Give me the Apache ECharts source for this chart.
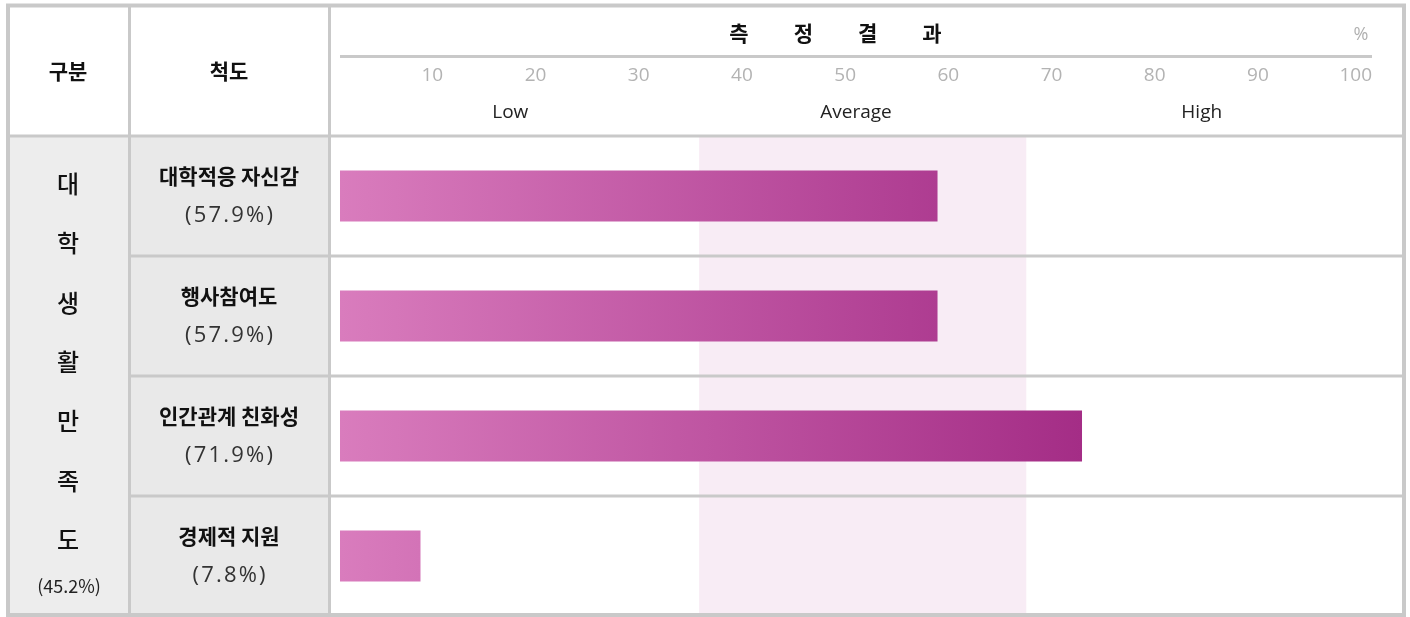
<!DOCTYPE html>
<html><head><meta charset="utf-8">
<script src="https://cdn.jsdelivr.net/npm/echarts@6/dist/echarts.min.js"></script>
<style>html,body{margin:0;padding:0;background:#fff}#c{width:1410px;height:617px}</style>
</head><body><div id="c"></div>
<script>
// ---- data ----
const categories = ['대학적응 자신감', '행사참여도', '인간관계 친화성', '경제적 지원'];
const values = [57.9, 57.9, 71.9, 7.8];
const groupLabel = '대학생활만족도';
const groupValue = 45.2;
const headerLabels = ['구분', '척도'];
const titleText = ['측', '정', '결', '과'];
const unitLabel = '%';
const axisMin = 0, axisMax = 100, axisStep = 10;
const bandNames = ['Low', 'Average', 'High'];
const bandCenters = [16.5, 50, 83.5];
const averageBand = [34.8, 66.5];

// ---- styles ----
const KR = '"Noto Sans CJK KR", "Noto Sans", sans-serif';
const LAT = '"Open Sans", "Noto Sans", sans-serif';
const LINE = '#c9c9c9';
const c0 = [217, 124, 189], c1 = [164, 45, 134];
const maxV = Math.max(...values);
function mix(t) { return 'rgb(' + c0.map((a, i) => Math.round(a + (c1[i] - a) * t)).join(',') + ')'; }
function spaced(s) { return s.split('').join('\u200A'); }

const chart = echarts.init(document.getElementById('c'), null, { renderer: 'canvas' });

const graphics = [];
graphics.push({ type: 'rect', z: -10, shape: { x: 10, y: 137, width: 119, height: 477 }, style: { fill: '#ededed' } });
graphics.push({ type: 'rect', z: -10, shape: { x: 130, y: 137, width: 199, height: 477 }, style: { fill: '#e9e9e9' } });
const lineStyle = { stroke: LINE, lineWidth: 3 };
function hl(x1, x2, y) { graphics.push({ type: 'line', z: 100, shape: { x1, y1: y, x2, y2: y }, style: lineStyle }); }
function vl(x, y1, y2) { graphics.push({ type: 'line', z: 100, shape: { x1: x, y1, x2: x, y2 }, style: lineStyle }); }
graphics.push({ type: 'rect', z: 100, shape: { x: 8, y: 5.5, width: 1396, height: 609.5 }, style: { fill: 'none', stroke: LINE, lineWidth: 4 } });
vl(129.5, 5, 615);
vl(329.5, 5, 615);
hl(8, 1404, 136);
[256, 376, 496].forEach(y => hl(130, 1404, y));
hl(340, 1372, 56.5);
graphics.push({ type: 'text', z: 110, x: 68, y: 71, style: { text: headerLabels[0], font: 'bold 21px ' + KR, fill: '#111', align: 'center', verticalAlign: 'middle' } });
graphics.push({ type: 'text', z: 110, x: 229, y: 71, style: { text: headerLabels[1], font: 'bold 21px ' + KR, fill: '#111', align: 'center', verticalAlign: 'middle' } });
titleText.forEach((t, i) => {
  graphics.push({ type: 'text', z: 110, x: 739 + i * 64.3, y: 33, style: { text: t, font: 'bold 21px ' + KR, fill: '#111', align: 'center', verticalAlign: 'middle' } });
});
graphics.push({ type: 'text', z: 110, x: 1361, y: 35, style: { text: unitLabel, font: '18px ' + LAT, fill: '#b0b0b0', align: 'center', verticalAlign: 'middle' } });
groupLabel.split('').forEach((ch, i) => {
  graphics.push({ type: 'text', z: 110, x: 68, y: 184 + i * 59.3, style: { text: ch, font: '500 24px ' + KR, fill: '#111', align: 'center', verticalAlign: 'middle' } });
});
graphics.push({ type: 'text', z: 110, x: 69, y: 586, style: { text: '(' + groupValue + '%)', font: '18px ' + KR, fill: '#222', align: 'center', verticalAlign: 'middle' } });

chart.setOption({
  animation: false,
  backgroundColor: '#fff',
  grid: { left: 340, right: 38, top: 136, bottom: 1, containLabel: false },
  xAxis: [{
    type: 'value', position: 'top', min: axisMin, max: axisMax, interval: axisStep,
    axisLine: { show: false }, axisTick: { show: false }, splitLine: { show: false },
    axisLabel: { margin: 51, align: 'right', showMinLabel: false, color: '#b3b3b3', fontSize: 19, fontFamily: LAT }
  }, {
    type: 'value', position: 'top', min: axisMin, max: axisMax,
    axisLine: { show: false }, axisTick: { show: false }, splitLine: { show: false },
    axisLabel: {
      margin: 14, color: '#222', fontSize: 19, fontFamily: LAT,
      customValues: bandCenters,
      formatter: v => { const i = bandCenters.indexOf(v); return i >= 0 ? bandNames[i] : ''; }
    }
  }],
  yAxis: {
    type: 'category', data: categories, inverse: true,
    axisLine: { show: false }, axisTick: { show: false }, splitLine: { show: false },
    axisLabel: {
      margin: 111, align: 'center',
      formatter: (val, idx) => '{n|' + val + '}\n{p|' + spaced('(' + values[idx] + '%)') + '}',
      rich: {
        n: { fontSize: 21, fontWeight: 'bold', fontFamily: KR, color: '#111', lineHeight: 40, align: 'center' },
        p: { fontSize: 22, fontFamily: LAT, color: '#333', lineHeight: 40, align: 'center' }
      }
    }
  },
  series: [{
    type: 'bar', xAxisIndex: 0, barWidth: 51,
    data: values.map(v => ({
      value: v,
      itemStyle: { color: new echarts.graphic.LinearGradient(0, 0, 1, 0, [{ offset: 0, color: mix(0) }, { offset: 1, color: mix(v / maxV) }]) }
    })),
    markArea: {
      silent: true,
      itemStyle: { color: '#f8ecf5' },
      data: [[{ xAxis: averageBand[0] }, { xAxis: averageBand[1] }]]
    }
  }],
  graphic: { elements: graphics }
});
</script></body></html>
